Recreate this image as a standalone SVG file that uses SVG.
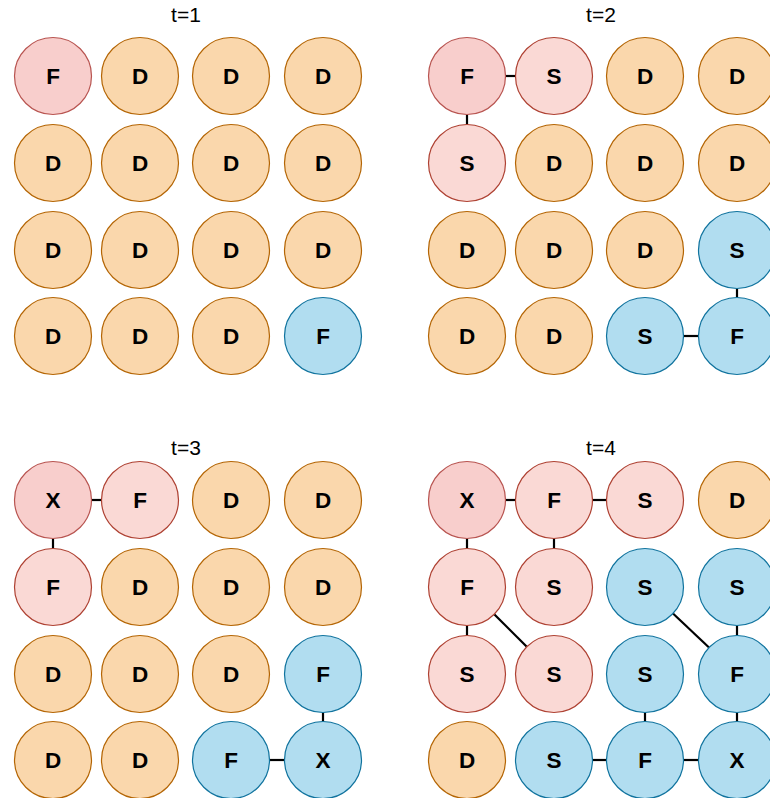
<svg xmlns="http://www.w3.org/2000/svg" width="770" height="798" viewBox="0 0 770 798">
<style>
circle{stroke-width:1.2}
.r{fill:#f8cecc;stroke:#b85450}
.p{fill:#fad9d5;stroke:#ae4132}
.d{fill:#fad7ac;stroke:#b46504}
.b{fill:#b1ddf0;stroke:#10739e}
.l{font-family:"Liberation Sans",Arial,sans-serif;font-size:22.5px;font-weight:bold;text-anchor:middle;fill:#000}
.t{font-family:"Liberation Sans",Arial,sans-serif;font-size:21px;text-anchor:middle;fill:#000}
#edges line{stroke:#000;stroke-width:2.2}
</style>
<rect width="770" height="798" fill="#fff"/>
<g id="titles">
<text class="t" x="186" y="22">t=1</text>
<text class="t" x="601" y="22">t=2</text>
<text class="t" x="186" y="455">t=3</text>
<text class="t" x="601" y="455">t=4</text>
</g>
<g id="edges">
<line x1="505.5" y1="76" x2="515.5" y2="76"/>
<line x1="467" y1="114.5" x2="467" y2="124.5"/>
<line x1="737" y1="288.5" x2="737" y2="297.5"/>
<line x1="683.5" y1="336" x2="698.5" y2="336"/>
<line x1="91.5" y1="500" x2="101.5" y2="500"/>
<line x1="53" y1="538.5" x2="53" y2="548.5"/>
<line x1="323" y1="712.5" x2="323" y2="721.5"/>
<line x1="269.5" y1="760" x2="284.5" y2="760"/>
<line x1="505.5" y1="500" x2="515.5" y2="500"/>
<line x1="592.5" y1="500" x2="606.5" y2="500"/>
<line x1="467" y1="538.5" x2="467" y2="548.5"/>
<line x1="554" y1="538.5" x2="554" y2="548.5"/>
<line x1="467" y1="625.5" x2="467" y2="635.5"/>
<line x1="494.2" y1="614.2" x2="526.8" y2="646.8"/>
<line x1="673" y1="613.5" x2="709" y2="647.5"/>
<line x1="737" y1="625.5" x2="737" y2="635.5"/>
<line x1="645" y1="712.5" x2="645" y2="721.5"/>
<line x1="737" y1="712.5" x2="737" y2="721.5"/>
<line x1="592.5" y1="760" x2="606.5" y2="760"/>
<line x1="683.5" y1="760" x2="698.5" y2="760"/>
</g>
<g id="g1">
<g id="g1-n11"><circle class="r" cx="53" cy="76" r="38.5"/><text class="l" x="53" y="84">F</text></g>
<g id="g1-n12"><circle class="d" cx="140" cy="76" r="38.5"/><text class="l" x="140" y="84">D</text></g>
<g id="g1-n13"><circle class="d" cx="231" cy="76" r="38.5"/><text class="l" x="231" y="84">D</text></g>
<g id="g1-n14"><circle class="d" cx="323" cy="76" r="38.5"/><text class="l" x="323" y="84">D</text></g>
<g id="g1-n21"><circle class="d" cx="53" cy="163" r="38.5"/><text class="l" x="53" y="171">D</text></g>
<g id="g1-n22"><circle class="d" cx="140" cy="163" r="38.5"/><text class="l" x="140" y="171">D</text></g>
<g id="g1-n23"><circle class="d" cx="231" cy="163" r="38.5"/><text class="l" x="231" y="171">D</text></g>
<g id="g1-n24"><circle class="d" cx="323" cy="163" r="38.5"/><text class="l" x="323" y="171">D</text></g>
<g id="g1-n31"><circle class="d" cx="53" cy="250" r="38.5"/><text class="l" x="53" y="258">D</text></g>
<g id="g1-n32"><circle class="d" cx="140" cy="250" r="38.5"/><text class="l" x="140" y="258">D</text></g>
<g id="g1-n33"><circle class="d" cx="231" cy="250" r="38.5"/><text class="l" x="231" y="258">D</text></g>
<g id="g1-n34"><circle class="d" cx="323" cy="250" r="38.5"/><text class="l" x="323" y="258">D</text></g>
<g id="g1-n41"><circle class="d" cx="53" cy="336" r="38.5"/><text class="l" x="53" y="344">D</text></g>
<g id="g1-n42"><circle class="d" cx="140" cy="336" r="38.5"/><text class="l" x="140" y="344">D</text></g>
<g id="g1-n43"><circle class="d" cx="231" cy="336" r="38.5"/><text class="l" x="231" y="344">D</text></g>
<g id="g1-n44"><circle class="b" cx="323" cy="336" r="38.5"/><text class="l" x="323" y="344">F</text></g>
</g>
<g id="g2">
<g id="g2-n11"><circle class="r" cx="467" cy="76" r="38.5"/><text class="l" x="467" y="84">F</text></g>
<g id="g2-n12"><circle class="p" cx="554" cy="76" r="38.5"/><text class="l" x="554" y="84">S</text></g>
<g id="g2-n13"><circle class="d" cx="645" cy="76" r="38.5"/><text class="l" x="645" y="84">D</text></g>
<g id="g2-n14"><circle class="d" cx="737" cy="76" r="38.5"/><text class="l" x="737" y="84">D</text></g>
<g id="g2-n21"><circle class="p" cx="467" cy="163" r="38.5"/><text class="l" x="467" y="171">S</text></g>
<g id="g2-n22"><circle class="d" cx="554" cy="163" r="38.5"/><text class="l" x="554" y="171">D</text></g>
<g id="g2-n23"><circle class="d" cx="645" cy="163" r="38.5"/><text class="l" x="645" y="171">D</text></g>
<g id="g2-n24"><circle class="d" cx="737" cy="163" r="38.5"/><text class="l" x="737" y="171">D</text></g>
<g id="g2-n31"><circle class="d" cx="467" cy="250" r="38.5"/><text class="l" x="467" y="258">D</text></g>
<g id="g2-n32"><circle class="d" cx="554" cy="250" r="38.5"/><text class="l" x="554" y="258">D</text></g>
<g id="g2-n33"><circle class="d" cx="645" cy="250" r="38.5"/><text class="l" x="645" y="258">D</text></g>
<g id="g2-n34"><circle class="b" cx="737" cy="250" r="38.5"/><text class="l" x="737" y="258">S</text></g>
<g id="g2-n41"><circle class="d" cx="467" cy="336" r="38.5"/><text class="l" x="467" y="344">D</text></g>
<g id="g2-n42"><circle class="d" cx="554" cy="336" r="38.5"/><text class="l" x="554" y="344">D</text></g>
<g id="g2-n43"><circle class="b" cx="645" cy="336" r="38.5"/><text class="l" x="645" y="344">S</text></g>
<g id="g2-n44"><circle class="b" cx="737" cy="336" r="38.5"/><text class="l" x="737" y="344">F</text></g>
</g>
<g id="g3">
<g id="g3-n11"><circle class="r" cx="53" cy="500" r="38.5"/><text class="l" x="53" y="508">X</text></g>
<g id="g3-n12"><circle class="p" cx="140" cy="500" r="38.5"/><text class="l" x="140" y="508">F</text></g>
<g id="g3-n13"><circle class="d" cx="231" cy="500" r="38.5"/><text class="l" x="231" y="508">D</text></g>
<g id="g3-n14"><circle class="d" cx="323" cy="500" r="38.5"/><text class="l" x="323" y="508">D</text></g>
<g id="g3-n21"><circle class="p" cx="53" cy="587" r="38.5"/><text class="l" x="53" y="595">F</text></g>
<g id="g3-n22"><circle class="d" cx="140" cy="587" r="38.5"/><text class="l" x="140" y="595">D</text></g>
<g id="g3-n23"><circle class="d" cx="231" cy="587" r="38.5"/><text class="l" x="231" y="595">D</text></g>
<g id="g3-n24"><circle class="d" cx="323" cy="587" r="38.5"/><text class="l" x="323" y="595">D</text></g>
<g id="g3-n31"><circle class="d" cx="53" cy="674" r="38.5"/><text class="l" x="53" y="682">D</text></g>
<g id="g3-n32"><circle class="d" cx="140" cy="674" r="38.5"/><text class="l" x="140" y="682">D</text></g>
<g id="g3-n33"><circle class="d" cx="231" cy="674" r="38.5"/><text class="l" x="231" y="682">D</text></g>
<g id="g3-n34"><circle class="b" cx="323" cy="674" r="38.5"/><text class="l" x="323" y="682">F</text></g>
<g id="g3-n41"><circle class="d" cx="53" cy="760" r="38.5"/><text class="l" x="53" y="768">D</text></g>
<g id="g3-n42"><circle class="d" cx="140" cy="760" r="38.5"/><text class="l" x="140" y="768">D</text></g>
<g id="g3-n43"><circle class="b" cx="231" cy="760" r="38.5"/><text class="l" x="231" y="768">F</text></g>
<g id="g3-n44"><circle class="b" cx="323" cy="760" r="38.5"/><text class="l" x="323" y="768">X</text></g>
</g>
<g id="g4">
<g id="g4-n11"><circle class="r" cx="467" cy="500" r="38.5"/><text class="l" x="467" y="508">X</text></g>
<g id="g4-n12"><circle class="p" cx="554" cy="500" r="38.5"/><text class="l" x="554" y="508">F</text></g>
<g id="g4-n13"><circle class="p" cx="645" cy="500" r="38.5"/><text class="l" x="645" y="508">S</text></g>
<g id="g4-n14"><circle class="d" cx="737" cy="500" r="38.5"/><text class="l" x="737" y="508">D</text></g>
<g id="g4-n21"><circle class="p" cx="467" cy="587" r="38.5"/><text class="l" x="467" y="595">F</text></g>
<g id="g4-n22"><circle class="p" cx="554" cy="587" r="38.5"/><text class="l" x="554" y="595">S</text></g>
<g id="g4-n23"><circle class="b" cx="645" cy="587" r="38.5"/><text class="l" x="645" y="595">S</text></g>
<g id="g4-n24"><circle class="b" cx="737" cy="587" r="38.5"/><text class="l" x="737" y="595">S</text></g>
<g id="g4-n31"><circle class="p" cx="467" cy="674" r="38.5"/><text class="l" x="467" y="682">S</text></g>
<g id="g4-n32"><circle class="p" cx="554" cy="674" r="38.5"/><text class="l" x="554" y="682">S</text></g>
<g id="g4-n33"><circle class="b" cx="645" cy="674" r="38.5"/><text class="l" x="645" y="682">S</text></g>
<g id="g4-n34"><circle class="b" cx="737" cy="674" r="38.5"/><text class="l" x="737" y="682">F</text></g>
<g id="g4-n41"><circle class="d" cx="467" cy="760" r="38.5"/><text class="l" x="467" y="768">D</text></g>
<g id="g4-n42"><circle class="b" cx="554" cy="760" r="38.5"/><text class="l" x="554" y="768">S</text></g>
<g id="g4-n43"><circle class="b" cx="645" cy="760" r="38.5"/><text class="l" x="645" y="768">F</text></g>
<g id="g4-n44"><circle class="b" cx="737" cy="760" r="38.5"/><text class="l" x="737" y="768">X</text></g>
</g>
</svg>
